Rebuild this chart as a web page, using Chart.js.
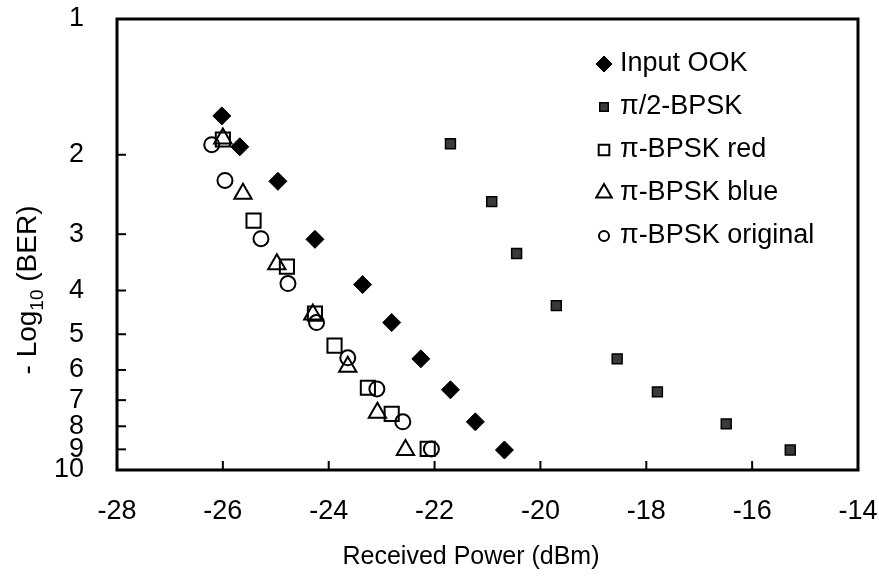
<!DOCTYPE html>
<html>
<head>
<meta charset="utf-8">
<script src="https://cdn.jsdelivr.net/npm/chart.js@4/dist/chart.umd.min.js"></script>
<style>
  html, body { margin: 0; padding: 0; background: #fff; }
  #wrap { width: 879px; height: 577px; }
</style>
</head>
<body>
<div id="wrap"><canvas id="ber"></canvas></div>
<script>
// received power (dBm) and -log10(BER)
const ookX = [-26.02, -25.68, -24.96, -24.26, -23.36, -22.81, -22.26, -21.70, -21.23, -20.68];
const ookY = [1.64, 1.92, 2.29, 3.08, 3.88, 4.71, 5.67, 6.64, 7.82, 9.03];

const halfPiX = [-21.70, -20.92, -20.45, -19.70, -18.55, -17.79, -16.49, -15.28];
const halfPiY = [1.89, 2.54, 3.31, 4.32, 5.67, 6.71, 7.90, 9.03];

const redX = [-26.00, -25.42, -24.79, -24.26, -23.89, -23.26, -22.81, -22.13];
const redY = [1.85, 2.80, 3.54, 4.50, 5.30, 6.57, 7.51, 8.98];

const blueX = [-26.00, -25.62, -24.98, -24.30, -23.64, -23.08, -22.55];
const blueY = [1.84, 2.44, 3.50, 4.52, 5.90, 7.47, 9.03];

const origX = [-26.21, -25.96, -25.28, -24.77, -24.23, -23.64, -23.09, -22.60, -22.06];
const origY = [1.90, 2.28, 3.07, 3.86, 4.71, 5.64, 6.61, 7.82, 8.98];

const yTicks = [1, 2, 3, 4, 5, 6, 7, 8, 9, 10];

const FONT = "'Liberation Sans', Arial, sans-serif";

function pts(xs, ys) {
    return xs.map((x, i) => ({ x, y: ys[i] }));
}

const series = [
    { label: "Input OOK", data: pts(ookX, ookY), pointStyle: "rectRot", pointRadius: 9,
      backgroundColor: "#000", borderColor: "#000", borderWidth: 1, legendRadius: 8 },
    { label: "\u03c0/2-BPSK", data: pts(halfPiX, halfPiY), pointStyle: "rect", pointRadius: 7,
      backgroundColor: "#3a3a3a", borderColor: "#000", borderWidth: 1.5, legendRadius: 6 },
    { label: "\u03c0-BPSK red", data: pts(redX, redY), pointStyle: "rect", pointRadius: 10,
      backgroundColor: "rgba(0,0,0,0)", borderColor: "#000", borderWidth: 2, legendRadius: 7.5 },
    { label: "\u03c0-BPSK blue", data: pts(blueX, blueY), pointStyle: "triangle", pointRadius: 10,
      backgroundColor: "rgba(0,0,0,0)", borderColor: "#000", borderWidth: 2, legendRadius: 9 },
    { label: "\u03c0-BPSK original", data: pts(origX, origY), pointStyle: "circle", pointRadius: 7.5,
      backgroundColor: "rgba(0,0,0,0)", borderColor: "#000", borderWidth: 2, legendRadius: 5 },
];

// frame round the plot and the inward tick marks
const frame = {
    id: "frame",
    afterDraw(chart) {
        const { ctx, chartArea: a, scales } = chart;
        ctx.save();
        ctx.strokeStyle = "#000";
        ctx.lineWidth = 2;
        scales.x.ticks.forEach((t) => {
            const px = scales.x.getPixelForValue(t.value);
            if (px <= a.left + 1 || px >= a.right - 1) return;
            ctx.beginPath();
            ctx.moveTo(px, a.bottom);
            ctx.lineTo(px, a.bottom - 9);
            ctx.stroke();
        });
        scales.y.ticks.forEach((t) => {
            const py = scales.y.getPixelForValue(t.value);
            if (py <= a.top + 1 || py >= a.bottom - 1) return;
            ctx.beginPath();
            ctx.moveTo(a.left, py);
            ctx.lineTo(a.left + 9, py);
            ctx.stroke();
        });
        ctx.lineWidth = 3;
        ctx.strokeRect(a.left, a.top, a.right - a.left, a.bottom - a.top);
        ctx.restore();
    },
};

// legend inside the plot, top right
const innerLegend = {
    id: "innerLegend",
    afterDatasetsDraw(chart) {
        const { ctx } = chart;
        ctx.save();
        chart.data.datasets.forEach((ds, i) => {
            const y = 64 + i * 43;
            ctx.fillStyle = ds.backgroundColor;
            ctx.strokeStyle = ds.borderColor;
            ctx.lineWidth = ds.borderWidth;
            Chart.helpers.drawPoint(ctx, {
                pointStyle: ds.pointStyle, rotation: 0, radius: ds.legendRadius, borderWidth: ds.borderWidth,
            }, 604, y);
            ctx.fillStyle = "#000";
            ctx.font = "27px " + FONT;
            ctx.textBaseline = "middle";
            ctx.textAlign = "left";
            ctx.fillText(ds.label, 620, y);
        });
        ctx.restore();
    },
};

// axis titles: "- Log10 (BER)" with a subscript, rotated, and the x title a bit left of centre
const axisTitles = {
    id: "axisTitles",
    afterDraw(chart) {
        const { ctx } = chart;
        const big = "28px " + FONT;
        const small = "19px " + FONT;
        const parts = [["- Log", big, 0], ["10", small, 7], [" (BER)", big, 0]];
        ctx.save();
        ctx.fillStyle = "#000";

        ctx.font = "25px " + FONT;
        ctx.textAlign = "center";
        ctx.textBaseline = "middle";
        ctx.fillText("Received Power (dBm)", 471, 557);

        ctx.textAlign = "left";
        ctx.textBaseline = "alphabetic";
        let total = 0;
        parts.forEach((p) => { ctx.font = p[1]; total += ctx.measureText(p[0]).width; });
        ctx.translate(36, 290);
        ctx.rotate(-Math.PI / 2);
        let x = -total / 2;
        parts.forEach((p) => {
            ctx.font = p[1];
            ctx.fillText(p[0], x, p[2]);
            x += ctx.measureText(p[0]).width;
        });
        ctx.restore();
    },
};

new Chart(document.getElementById("ber"), {
    type: "scatter",
    data: {
        datasets: series.map((s) => ({
            label: s.label,
            data: s.data,
            pointStyle: s.pointStyle,
            pointRadius: s.pointRadius,
            pointHoverRadius: s.pointRadius,
            backgroundColor: s.backgroundColor,
            borderColor: s.borderColor,
            borderWidth: s.borderWidth,
            legendRadius: s.legendRadius,
            showLine: false,
        })),
    },
    options: {
        responsive: true,
        maintainAspectRatio: false,
        animation: false,
        layout: { padding: { top: 19, right: 21, left: 0, bottom: 0 } },
        scales: {
            x: {
                type: "linear",
                min: -28,
                max: -14,
                grid: { display: false, drawTicks: false },
                border: { display: false },
                ticks: { stepSize: 2, padding: 25, color: "#000", font: { family: FONT, size: 27 } },
                afterFit(scale) {
                    scale.height = 107;
                    scale.paddingLeft = 0;
                    scale.paddingRight = 0;
                },
            },
            y: {
                type: "logarithmic",
                reverse: true,
                min: 1,
                max: 10,
                grid: { display: false, drawTicks: false },
                border: { display: false },
                afterBuildTicks(scale) { scale.ticks = yTicks.map((v) => ({ value: v })); },
                ticks: {
                    autoSkip: false,
                    padding: 33,
                    color: "#000",
                    font: { family: FONT, size: 27 },
                    callback: (v) => String(v),
                },
                afterFit(scale) {
                    scale.width = 117;
                    scale.paddingTop = 0;
                    scale.paddingBottom = 0;
                },
            },
        },
        plugins: {
            legend: { display: false },
            tooltip: { enabled: false },
        },
    },
    plugins: [frame, innerLegend, axisTitles],
});
</script>
</body>
</html>
